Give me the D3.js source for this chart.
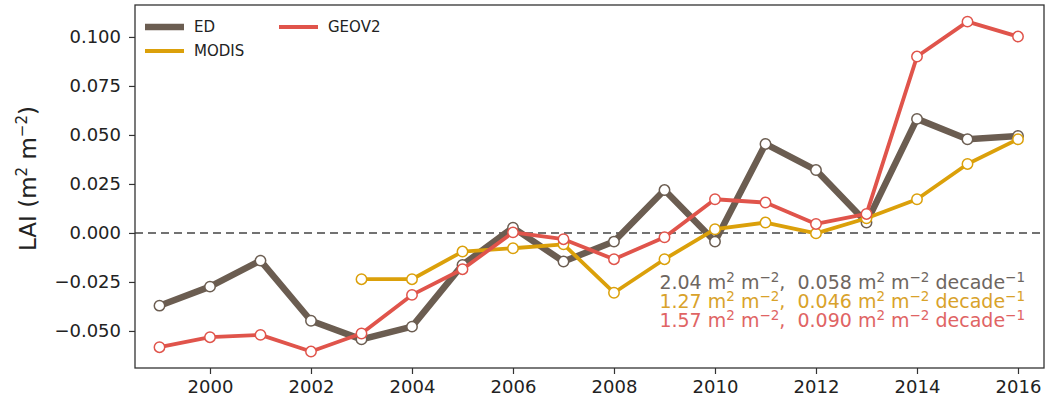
<!DOCTYPE html>
<html>
<head>
<meta charset="utf-8">
<script src="https://cdn.jsdelivr.net/npm/d3@7"></script>
<style>
  html, body { margin: 0; padding: 0; background: #fff; }
  svg { display: block; font-family: "DejaVu Sans", sans-serif; }
</style>
</head>
<body>
<svg id="chart" width="1050" height="404"></svg>
<script>
// LAI anomalies per year for three products
const years = d3.range(1999, 2017);
const edValues = [-0.0371, -0.0274, -0.0141, -0.0448, -0.0543, -0.0478, -0.0163, 0.0027, -0.0146, -0.0044,
                  0.0219, -0.0044, 0.0454, 0.0321, 0.0053, 0.0582, 0.0478, 0.0495];
const modisYears = d3.range(2003, 2017);
const modisValues = [-0.0236, -0.0236, -0.0095, -0.0078, -0.0058, -0.0305, -0.0134, 0.0019, 0.0053, -0.0002,
                     0.0075, 0.0172, 0.0352, 0.0478];
const geovValues = [-0.0583, -0.0532, -0.0520, -0.0605, -0.0513, -0.0316, -0.0185, 0.0003, -0.0032, -0.0134,
                    -0.0022, 0.0172, 0.0155, 0.0046, 0.0097, 0.0900, 0.1078, 0.1002];

const xTicks = [2000, 2002, 2004, 2006, 2008, 2010, 2012, 2014, 2016];
const yTicks = [-0.050, -0.025, 0.000, 0.025, 0.050, 0.075, 0.100];

const seriesNames = ["ED", "MODIS", "GEOV2"];
const annotations = [
  { mean: "2.04", trend: "0.058" },
  { mean: "1.27", trend: "0.046" },
  { mean: "1.57", trend: "0.090" }
];

const colors = { ED: "#6b5d51", MODIS: "#dba00a", GEOV2: "#e0544b" };
const textColors = { ED: "#6e6660", MODIS: "#d9a22a", GEOV2: "#e06464" };
const widths = { ED: 6.5, MODIS: 3.8, GEOV2: 3.8 };

const series = [
  { name: "ED", pts: years.map((y, i) => ({ year: y, v: edValues[i] })) },
  { name: "MODIS", pts: modisYears.map((y, i) => ({ year: y, v: modisValues[i] })) },
  { name: "GEOV2", pts: years.map((y, i) => ({ year: y, v: geovValues[i] })) }
];

const svg = d3.select("#chart");
const plotLeft = 135, plotRight = 1044, plotTop = 5, plotBottom = 368;

const x = d3.scaleLinear().domain([1998.515, 2016.515]).range([plotLeft, plotRight]);
const y = d3.scaleLinear().domain([-0.0689, 0.1163]).range([plotBottom, plotTop]);

// zero reference line
svg.append("line")
  .attr("x1", plotLeft).attr("x2", plotRight)
  .attr("y1", y(0)).attr("y2", y(0))
  .attr("stroke", "#444").attr("stroke-width", 1.6)
  .attr("stroke-dasharray", "8,5");

// series lines and markers
const line = d3.line().x(d => x(d.year)).y(d => y(d.v));
seriesNames.forEach(name => {
  const s = series.find(d => d.name === name);
  svg.append("path")
    .datum(s.pts)
    .attr("fill", "none")
    .attr("stroke", colors[name])
    .attr("stroke-width", widths[name])
    .attr("stroke-linejoin", "round")
    .attr("d", line);
  svg.append("g").selectAll("circle")
    .data(s.pts)
    .join("circle")
    .attr("cx", d => x(d.year))
    .attr("cy", d => y(d.v))
    .attr("r", 5.2)
    .attr("fill", "#fff")
    .attr("stroke", colors[name])
    .attr("stroke-width", 1.5);
});

// axes
const xAxis = d3.axisBottom(x).tickValues(xTicks).tickFormat(d3.format("d")).tickSizeOuter(0).tickSize(6).tickPadding(6);
const yAxis = d3.axisLeft(y).tickValues(yTicks).tickFormat(d => d3.format(".3f")(d).replace("-", "\u2212")).tickSizeOuter(0).tickSize(6).tickPadding(8);

const gx = svg.append("g").attr("transform", `translate(0,${plotBottom})`).call(xAxis);
const gy = svg.append("g").attr("transform", `translate(${plotLeft},0)`).call(yAxis);
[gx, gy].forEach(g => {
  g.select(".domain").remove();
  g.selectAll(".tick line").attr("stroke", "#333").attr("stroke-width", 1.2);
  g.selectAll(".tick text").attr("fill", "#222").style("font-size", "18px").style("font-family", "DejaVu Sans, sans-serif");
});

// frame
svg.append("rect")
  .attr("x", plotLeft).attr("y", plotTop)
  .attr("width", plotRight - plotLeft).attr("height", plotBottom - plotTop)
  .attr("fill", "none").attr("stroke", "#333").attr("stroke-width", 1.3);

// y label
const yl = svg.append("text")
  .attr("transform", `translate(36,${(plotTop + plotBottom) / 2 - 8}) rotate(-90)`)
  .attr("text-anchor", "middle")
  .attr("fill", "#222")
  .style("font-size", "23px");
yl.append("tspan").text("LAI (m");
yl.append("tspan").attr("dy", -9).style("font-size", "15px").text("2");
yl.append("tspan").attr("dy", 9).text(" m");
yl.append("tspan").attr("dy", -9).style("font-size", "15px").text("\u22122");
yl.append("tspan").attr("dy", 9).text(")");

// legend
const legendItems = [
  { name: "ED", lx: 145, ly: 27 },
  { name: "MODIS", lx: 145, ly: 51 },
  { name: "GEOV2", lx: 279, ly: 27 }
];
const lg = svg.append("g");
legendItems.forEach(it => {
  lg.append("line")
    .attr("x1", it.lx).attr("x2", it.lx + 39)
    .attr("y1", it.ly).attr("y2", it.ly)
    .attr("stroke", colors[it.name])
    .attr("stroke-width", widths[it.name]);
  lg.append("text")
    .attr("x", it.lx + 49).attr("y", it.ly + 5)
    .attr("fill", "#222")
    .style("font-size", "15px")
    .text(it.name);
});

// mean and trend annotations
const annY = [289, 308, 327];
annotations.forEach((a, i) => {
  const name = seriesNames[i];
  const t = svg.append("text")
    .attr("x", 1025).attr("y", annY[i])
    .attr("text-anchor", "end")
    .attr("fill", textColors[name])
    .style("font-size", "19px")
    .style("white-space", "pre");
  const sup = (s) => t.append("tspan").attr("dy", -7).style("font-size", "13.5px").text(s);
  const base = (s) => t.append("tspan").attr("dy", 7).text(s);
  t.append("tspan").text(a.mean + " m");
  sup("2");
  base(" m");
  sup("\u22122");
  base(",  " + a.trend + " m");
  sup("2");
  base(" m");
  sup("\u22122");
  base(" decade");
  sup("\u22121");
});
</script>
</body>
</html>
